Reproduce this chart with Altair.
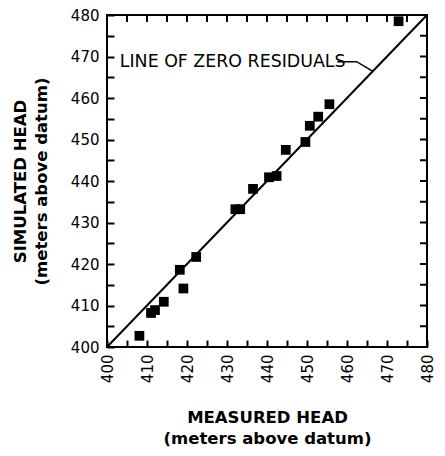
import altair as alt
import pandas as pd

measured = [408.1, 411.0, 412.0, 414.2, 418.2, 419.1, 422.3, 432.1, 433.3, 436.5,
            440.5, 442.4, 444.7, 449.6, 450.7, 452.8, 455.6, 472.9]
simulated = [402.7, 408.2, 408.9, 410.9, 418.6, 414.1, 421.7, 433.2, 433.2, 438.1,
             440.9, 441.2, 447.5, 449.4, 453.3, 455.5, 458.5, 478.5]
axis_values = list(range(400, 481, 5))
tick_values = list(range(405, 480, 5))
zero_line = [400, 480]
note_text = "LINE OF ZERO RESIDUALS"
note_xy = [403.2, 468.75]
leader_x = [457.6, 462.4, 466.5]
leader_y = [468.75, 468.75, 466.4]

W, H = 320, 332
FONT = "DejaVu Sans"
dom = [400, 480]
TL = 7
TLX = TL * 80 / H
TLY = TL * 80 / W

pts = pd.DataFrame({"measured": measured, "simulated": simulated})
note_df = pd.DataFrame({"measured": [note_xy[0]], "simulated": [note_xy[1]], "t": [note_text]})

# zero-residual line, leader, and top/right frame ticks
rows = []
for k, v in enumerate(zero_line):
    rows.append({"measured": v, "simulated": v, "sid": "diag", "o": k, "w": 2})
for k, (a, b) in enumerate(zip(leader_x, leader_y)):
    rows.append({"measured": a, "simulated": b, "sid": "leader", "o": k, "w": 1.5})
for i, v in enumerate(tick_values):
    segs = [
        ((v, dom[1]), (v, dom[1] - TLX)),
        ((dom[1], v), (dom[1] - TLY, v)),
    ]
    for k, (p0, p1) in enumerate(segs):
        sid = f"t{i}-{k}"
        rows.append({"measured": p0[0], "simulated": p0[1], "sid": sid, "o": 0, "w": 2})
        rows.append({"measured": p1[0], "simulated": p1[1], "sid": sid, "o": 1, "w": 2})
lines_df = pd.DataFrame(rows)

xs = alt.Scale(domain=dom, nice=False, zero=False)
ys = alt.Scale(domain=dom, nice=False, zero=False)

label_expr = "datum.value % 10 == 0 ? datum.label : ''"

# axes pushed 7px inside the frame so their ticks point inward
x_axis = alt.Axis(
    values=axis_values, labelExpr=label_expr, labelAngle=270,
    ticks=True, tickSize=TL, tickWidth=2, tickColor="black", offset=-TL,
    domain=False, grid=False,
    labelPadding=7, labelFontSize=15, labelFont=FONT, labelColor="black",
    title=["MEASURED HEAD", "(meters above datum)"], titleFont=FONT,
    titleFontSize=16.5, titleFontWeight="bold", titleLineHeight=21,
    titlePadding=27, titleColor="black")
y_axis = alt.Axis(
    values=axis_values, labelExpr=label_expr,
    ticks=True, tickSize=TL, tickWidth=2, tickColor="black", offset=-TL,
    domain=False, grid=False,
    labelPadding=8, labelFontSize=15, labelFont=FONT, labelColor="black",
    title=["SIMULATED HEAD", "(meters above datum)"], titleFont=FONT,
    titleFontSize=16.5, titleFontWeight="bold", titleLineHeight=21,
    titlePadding=21, titleColor="black")

X = alt.X("measured:Q", scale=xs, axis=x_axis)
Y = alt.Y("simulated:Q", scale=ys, axis=y_axis)

scatter = alt.Chart(pts).mark_square(size=95, color="black", opacity=1).encode(x=X, y=Y)

lines = alt.Chart(lines_df).mark_line(color="black").encode(
    x=X, y=Y, detail="sid:N", order="o:Q",
    strokeWidth=alt.StrokeWidth("w:Q", scale=None))

note = alt.Chart(note_df).mark_text(align="left", baseline="middle", font=FONT,
                                    fontSize=17.4, color="black").encode(
    x=X, y=Y, text="t:N")

chart = alt.layer(
    scatter, lines, note
).properties(
    width=W, height=H,
    autosize=alt.AutoSizeParams(type="none"),
    padding={"left": 99, "top": 7, "right": 10, "bottom": 101},
    background="white",
).configure_view(stroke="black", strokeWidth=2)

chart.save("out.html", embed_options={"renderer": "svg", "actions": False})
